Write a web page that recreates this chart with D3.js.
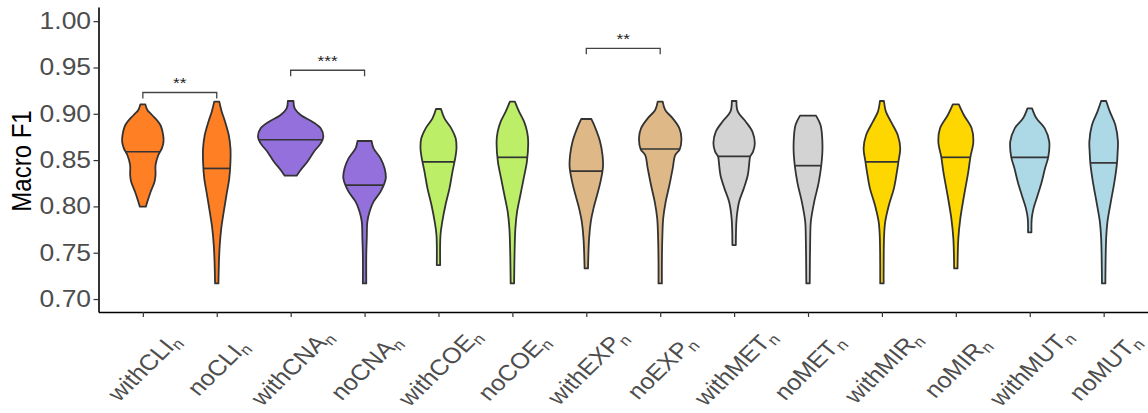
<!DOCTYPE html>
<html>
<head>
<meta charset="utf-8">
<script src="https://cdn.jsdelivr.net/npm/d3@7"></script>
<style>
  html, body { margin: 0; padding: 0; background: #fff; }
  svg { display: block; }
  text { font-family: "Liberation Sans", Arial, Helvetica, sans-serif; }
</style>
</head>
<body>
<svg id="chart" width="1148" height="413"></svg>
<script>
// ---------- data ----------
const categories = ["withCLI","noCLI","withCNA","noCNA","withCOE","noCOE","withEXP","noEXP",
                    "withMET","noMET","withMIR","noMIR","withMUT","noMUT"];
const groups = ["CLI","CLI","CNA","CNA","COE","COE","EXP","EXP","MET","MET","MIR","MIR","MUT","MUT"];
const groupColors = {CLI:"#FF7F24", CNA:"#9370DB", COE:"#BCEE68", EXP:"#DEB887",
                     MET:"#D3D3D3", MIR:"#FFD700", MUT:"#ADD8E6"};
const medians = [0.859, 0.841, 0.872, 0.823, 0.848, 0.853, 0.838, 0.862,
                 0.854, 0.844, 0.848, 0.853, 0.853, 0.847];

// density profiles: [macroF1, relative density]
const pWithCLI = [[0.9102,2.5],[0.9041,4.5],[0.8987,9.2],[0.8879,17.5],[0.8771,20.3],[0.8699,20.7],[0.8627,19],[0.8555,15.5],[0.8447,12.7],[0.8339,12.7],[0.8267,11.7],[0.8159,7.8],[0.8051,4.5],[0.7997,3]];
const pNoCLI   = [[0.9131,2.5],[0.9023,5],[0.8915,8.3],[0.8771,12],[0.8627,13.7],[0.8483,13.7],[0.8303,12.5],[0.8123,9.7],[0.7943,7],[0.7763,4.5],[0.7583,3],[0.7403,2.2],[0.7169,1.7]];
const pWithCNA = [[0.9138,2.8],[0.9059,4],[0.8987,10],[0.8915,21.7],[0.8843,30],[0.8753,32.7],[0.8681,30],[0.8591,23.3],[0.8483,16.7],[0.8393,10],[0.8332,6]];
const pNoCNA   = [[0.8706,7],[0.8627,9],[0.8519,16],[0.8411,20],[0.8303,21.2],[0.8159,16],[0.8051,9],[0.7943,5],[0.7835,2.8],[0.7655,2.2],[0.7475,1.7],[0.7169,1.7]];
const pWithCOE = [[0.9052,2.5],[0.8951,6],[0.8843,12.8],[0.8735,17.2],[0.8627,18],[0.8537,17],[0.8375,14],[0.8195,11],[0.8015,7],[0.7835,3.8],[0.7691,2],[0.7367,1.7]];
const pNoCOE   = [[0.9131,2.5],[0.9023,6.7],[0.8915,11.7],[0.8807,14.7],[0.8699,15.8],[0.8483,14.5],[0.8303,11.3],[0.8123,8],[0.7943,4.7],[0.7763,3],[0.7511,2.2],[0.7169,1.7]];
const pWithEXP = [[0.8944,5],[0.8843,9.2],[0.8699,13.8],[0.8555,16.2],[0.8429,16.7],[0.8267,14.2],[0.8123,10.8],[0.7979,7.2],[0.7835,4.5],[0.7655,2.8],[0.7331,1.7]];
const pNoEXP   = [[0.9131,2.5],[0.9041,5],[0.8951,12.5],[0.8843,19.2],[0.8735,21.2],[0.8616,19.5],[0.8555,15],[0.8411,12.5],[0.8231,9.2],[0.8051,5.5],[0.7871,3],[0.7691,2.2],[0.7403,1.7],[0.7169,1.7]];
const pWithMET = [[0.9138,2.3],[0.9023,3.7],[0.8915,11.7],[0.8807,18.3],[0.8681,20.7],[0.8591,19],[0.8537,16],[0.8483,15.3],[0.8339,13.7],[0.8195,9.7],[0.8051,5],[0.7871,2.5],[0.7583,1.7]];
const pNoMET   = [[0.8980,8],[0.8879,12.5],[0.8735,14.2],[0.8555,14.2],[0.8267,10.8],[0.8051,6.2],[0.7835,2.8],[0.7655,2.2],[0.7169,1.7]];
const pWithMIR = [[0.9138,2],[0.9023,4],[0.8915,9],[0.8771,15.8],[0.8627,18.3],[0.8483,16.5],[0.8375,15],[0.8195,12],[0.8015,7],[0.7835,3.3],[0.7691,2.2],[0.7169,1.7]];
const pNoMIR   = [[0.9102,3],[0.8987,8],[0.8843,15.8],[0.8699,17.5],[0.8530,14.5],[0.8375,12.5],[0.8123,8.3],[0.7871,4.5],[0.7655,2.5],[0.7331,1.7]];
const pWithMUT = [[0.9059,2.3],[0.8951,6.7],[0.8843,15],[0.8699,19.5],[0.8533,18.5],[0.8411,15.3],[0.8267,12],[0.8123,8],[0.7979,3.8],[0.7871,2],[0.7720,1.7]];
const pNoMUT   = [[0.9138,2.5],[0.9023,6.2],[0.8879,11.7],[0.8699,14.3],[0.8591,14],[0.8465,13.3],[0.8267,10.8],[0.8051,7.2],[0.7835,3.8],[0.7655,2.5],[0.7169,1.7]];
const profiles = [pWithCLI,pNoCLI,pWithCNA,pNoCNA,pWithCOE,pNoCOE,pWithEXP,pNoEXP,
                  pWithMET,pNoMET,pWithMIR,pNoMIR,pWithMUT,pNoMUT];

const yTicks = [0.70, 0.75, 0.80, 0.85, 0.90, 0.95, 1.00];
const sigPairs = [["withCLI","noCLI"],["withCNA","noCNA"],["withEXP","noEXP"]];
const sigLevels = [0.923, 0.947, 0.9707];
const sigLabels = ["**","***","**"];

// ---------- layout ----------
const svg = d3.select("#chart");
const M = {left: 98.5, right: 1148, top: 7, bottom: 312};
const stretch = 1.15;

const x = d3.scalePoint().domain(categories).range([M.left, M.right]).padding(0.6);
const y = d3.scaleLinear().domain([0.686, 1.0153]).range([M.bottom, M.top]);
const maxDensity = d3.max(profiles.flat(), d => d[1]);
const w = d3.scaleLinear().domain([0, maxDensity]).range([0, x.step() * 0.4425]);

// violins
const g = svg.append("g");
categories.forEach((cat, i) => {
  const cx = x(cat);
  const prof = profiles[i];
  const area = d3.area()
    .y(d => y(d[0]))
    .x0(d => cx - w(d[1]))
    .x1(d => cx + w(d[1]))
    .curve(d3.curveCatmullRom.alpha(0.5));
  g.append("path")
    .attr("d", area(prof))
    .attr("fill", groupColors[groups[i]])
    .attr("stroke", "#333")
    .attr("stroke-width", 1.8)
    .attr("stroke-linejoin", "round");
  const m = medians[i];
  let dm = prof[prof.length - 1][1];
  for (let k = 0; k < prof.length - 1; k++) {
    const a = prof[k], b = prof[k + 1];
    if (m <= a[0] && m >= b[0]) {
      const t = (a[0] - m) / (a[0] - b[0]);
      dm = a[1] + t * (b[1] - a[1]);
      break;
    }
  }
  g.append("line")
    .attr("x1", cx - w(dm)).attr("x2", cx + w(dm))
    .attr("y1", y(m)).attr("y2", y(m))
    .attr("stroke", "#333").attr("stroke-width", 1.7);
});

// significance brackets
const legDrop = 0.0065;
sigPairs.forEach((pair, i) => {
  const x1 = x(pair[0]), x2 = x(pair[1]), yl = y(sigLevels[i]);
  const yd = y(sigLevels[i] - legDrop);
  svg.append("path")
    .attr("d", `M${x1},${yd}L${x1},${yl}L${x2},${yl}L${x2},${yd}`)
    .attr("fill", "none").attr("stroke", "#444").attr("stroke-width", 1.3);
  svg.append("text")
    .attr("transform", `translate(${(x1 + x2) / 2},${yl - 4}) scale(${stretch},1)`)
    .attr("text-anchor", "middle")
    .attr("font-size", 15)
    .attr("fill", "#222")
    .text(sigLabels[i]);
});

// y axis
const yAxis = svg.append("g")
  .attr("transform", `translate(${M.left},0)`)
  .call(d3.axisLeft(y).tickValues(yTicks).tickSize(5).tickSizeOuter(0).tickFormat(d3.format(".2f")));
yAxis.select(".domain").attr("stroke", "#000").attr("stroke-width", 1.6);
yAxis.selectAll(".tick line").attr("stroke", "#333").attr("stroke-width", 1.2);
yAxis.selectAll(".tick text")
  .attr("x", -6.5)
  .attr("transform", `scale(${stretch},1)`)
  .attr("font-size", 23)
  .attr("font-family", "'Liberation Sans', Arial, sans-serif")
  .attr("fill", "#4D4D4D");

// x axis
const xAxis = svg.append("g")
  .attr("transform", `translate(0,${M.bottom})`)
  .call(d3.axisBottom(x).tickSize(5).tickSizeOuter(0).tickFormat(""));
xAxis.select(".domain").attr("stroke", "#000").attr("stroke-width", 1.6);
xAxis.selectAll(".tick line").attr("stroke", "#333").attr("stroke-width", 1.2);

// x labels (rotated, with subscript n)
categories.forEach(cat => {
  const t = svg.append("text")
    .attr("transform", `translate(${x(cat) + 1},${367}) scale(${stretch},1) rotate(-48)`)
    .attr("text-anchor", "middle")
    .attr("dy", "0.35em")
    .attr("font-size", 22)
    .attr("fill", "#4D4D4D");
  t.append("tspan").text(cat);
  t.append("tspan").attr("font-size", 15).attr("dy", 4).text("n");
});

// y title
svg.append("text")
  .attr("transform", `translate(31,161) scale(${stretch},1) rotate(-90)`)
  .attr("text-anchor", "middle")
  .attr("font-size", 24)
  .attr("fill", "#000")
  .text("Macro F1");
</script>
</body>
</html>
